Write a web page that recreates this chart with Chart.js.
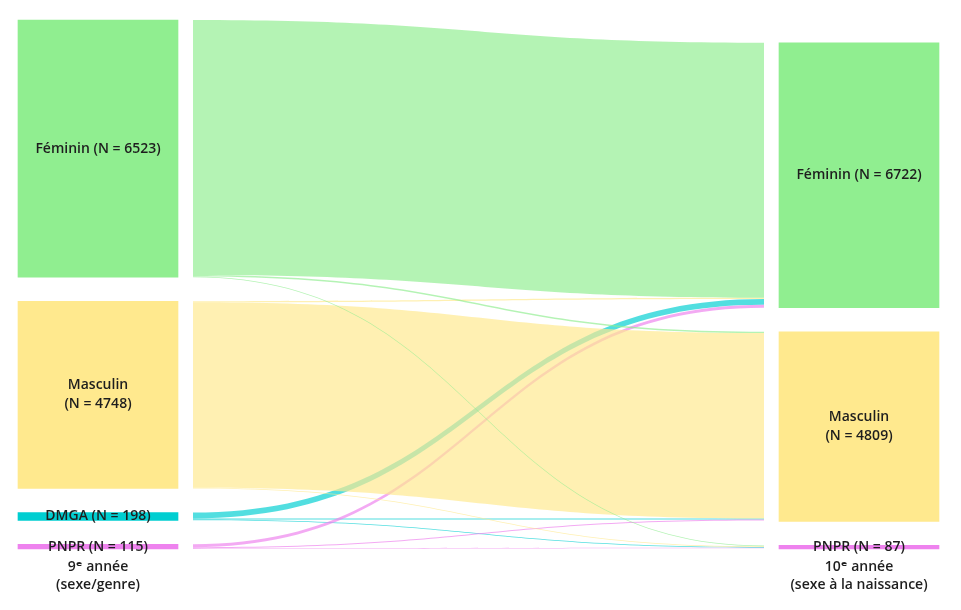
<!DOCTYPE html>
<html lang="fr">
<head>
<meta charset="utf-8">
<script src="https://cdn.jsdelivr.net/npm/chart.js@4"></script>
<style>
  html, body { margin: 0; padding: 0; background: #fff; }
  #wrap { width: 961px; height: 610px; position: relative; }
</style>
</head>
<body>
<div id="wrap"><canvas id="sankey"></canvas></div>
<script>
// === Data ===
const columnLabels = [['9\u1D49 année', '(sexe/genre)'], ['10\u1D49 année', '(sexe à la naissance)']];

const leftNodes = ['Féminin', 'Masculin', 'DMGA', 'PNPR'];
const leftCounts = [6523, 4748, 198, 115];
const leftLabels = [['Féminin (N = 6523)'], ['Masculin', '(N = 4748)'], ['DMGA (N = 198)'], ['PNPR (N = 115)']];

const rightNodes = ['Féminin', 'Masculin', 'PNPR'];
const rightCounts = [6722, 4809, 87];
const rightLabels = [['Féminin (N = 6722)'], ['Masculin', '(N = 4809)'], ['PNPR (N = 87)']];

// flows from each 9e année group to [Féminin, Masculin, PNPR] in 10e année
const fromFeminin = [6470, 33, 20];
const fromMasculin = [28, 4700, 20];
const fromDMGA = [150, 30, 18];
const fromPNPR = [74, 26, 15];
const flows = [fromFeminin, fromMasculin, fromDMGA, fromPNPR];

// === Styles ===
const nodeColors = { 'Féminin': '#90EE90', 'Masculin': '#FFE98E', 'DMGA': '#00CED1', 'PNPR': '#EE82EE' };
const linkAlpha = 0.68;
const linkDrawOrder = ['DMGA', 'PNPR', 'Masculin', 'Féminin'];
const nodeGap = 610;   // vertical space between nodes, in count units
const linkGap = 15;    // px between node edge and link start
const FONT = '"Open Sans", "DejaVu Sans", sans-serif';

// === Layout: stack each column from the bottom ===
function stackColumn(counts) {
  const ranges = new Array(counts.length);
  let base = 0;
  for (let i = counts.length - 1; i >= 0; i--) {
    ranges[i] = [base, base + counts[i]];
    base += counts[i] + nodeGap;
  }
  return ranges;
}
const leftRanges = stackColumn(leftCounts);
const rightRanges = stackColumn(rightCounts);
const yMax = Math.max(leftRanges[0][1], rightRanges[0][1]);

// one dataset per group, bars in both columns when present
const groups = ['Féminin', 'Masculin', 'DMGA', 'PNPR'];
const datasets = groups.map(g => {
  const li = leftNodes.indexOf(g);
  const ri = rightNodes.indexOf(g);
  return {
    label: g,
    data: [li >= 0 ? leftRanges[li] : null, ri >= 0 ? rightRanges[ri] : null],
    nodeLabels: [li >= 0 ? leftLabels[li] : null, ri >= 0 ? rightLabels[ri] : null],
    backgroundColor: nodeColors[g],
    borderWidth: 0,
    grouped: false,
    barThickness: 160,
    clip: false
  };
});

function hexToRgba(hex, a) {
  const n = parseInt(hex.slice(1), 16);
  return `rgba(${(n >> 16) & 255},${(n >> 8) & 255},${n & 255},${a})`;
}

// === Links drawn from the bar elements and the y scale ===
const sankeyLinks = {
  id: 'sankeyLinks',
  beforeDatasetsDraw(chart) {
    const { ctx, scales: { y } } = chart;
    const leftBar = chart.getDatasetMeta(0).data[0];
    const rightBar = chart.getDatasetMeta(0).data[1];
    const x0 = leftBar.x + leftBar.width / 2 + linkGap;
    const x1 = rightBar.x - rightBar.width / 2 - linkGap;
    const xm = (x0 + x1) / 2;

    // source offsets (ordered by target), target offsets (ordered by source)
    const srcTop = leftRanges.map(r => r[1]);
    const tgtTop = rightRanges.map(r => r[1]);
    const links = [];
    flows.forEach((row, i) => {
      row.forEach((v, j) => {
        links.push({ i, j, v, s0: srcTop[i], s1: srcTop[i] - v });
        srcTop[i] -= v;
      });
    });
    rightNodes.forEach((_, j) => {
      links.filter(l => l.j === j).sort((a, b) => a.i - b.i).forEach(l => {
        l.t0 = tgtTop[j];
        l.t1 = tgtTop[j] - l.v;
        tgtTop[j] -= l.v;
      });
    });

    links.sort((a, b) => linkDrawOrder.indexOf(leftNodes[a.i]) - linkDrawOrder.indexOf(leftNodes[b.i]));

    ctx.save();
    links.forEach(l => {
      const ys0 = y.getPixelForValue(l.s0), ys1 = y.getPixelForValue(l.s1);
      const yt0 = y.getPixelForValue(l.t0), yt1 = y.getPixelForValue(l.t1);
      ctx.beginPath();
      ctx.moveTo(x0, ys0);
      ctx.bezierCurveTo(xm, ys0, xm, yt0, x1, yt0);
      ctx.lineTo(x1, yt1);
      ctx.bezierCurveTo(xm, yt1, xm, ys1, x0, ys1);
      ctx.closePath();
      ctx.fillStyle = hexToRgba(nodeColors[leftNodes[l.i]], linkAlpha);
      ctx.fill();
    });
    ctx.restore();
  }
};

// === Node labels centred on each bar ===
const nodeLabels = {
  id: 'nodeLabels',
  afterDatasetsDraw(chart) {
    const { ctx } = chart;
    ctx.save();
    ctx.font = `600 14px ${FONT}`;
    ctx.fillStyle = '#1e1e1e';
    ctx.textAlign = 'center';
    ctx.textBaseline = 'middle';
    chart.data.datasets.forEach((ds, di) => {
      chart.getDatasetMeta(di).data.forEach((bar, k) => {
        const lines = ds.nodeLabels[k];
        if (!lines || ds.data[k] == null) return;
        const cy = (bar.y + bar.base) / 2;
        const lh = 19;
        lines.forEach((t, n) => {
          ctx.fillText(t, bar.x, cy + (n - (lines.length - 1) / 2) * lh);
        });
      });
    });
    ctx.restore();
  }
};

new Chart(document.getElementById('sankey'), {
  type: 'bar',
  data: { labels: columnLabels, datasets },
  options: {
    responsive: true,
    maintainAspectRatio: false,
    animation: false,
    layout: { padding: { left: 98, right: 102, top: 20, bottom: 7 } },
    plugins: { legend: { display: false }, tooltip: { enabled: false } },
    scales: {
      x: {
        offset: false,
        grid: { display: false, drawTicks: false },
        border: { display: false },
        ticks: {
          color: '#1e1e1e',
          padding: 9,
          maxRotation: 0,
          autoSkip: false,
          font: { family: FONT, size: 14, weight: '600', lineHeight: 1.29 }
        }
      },
      y: { display: false, min: 0, max: yMax }
    }
  },
  plugins: [sankeyLinks, nodeLabels]
});
</script>
</body>
</html>
